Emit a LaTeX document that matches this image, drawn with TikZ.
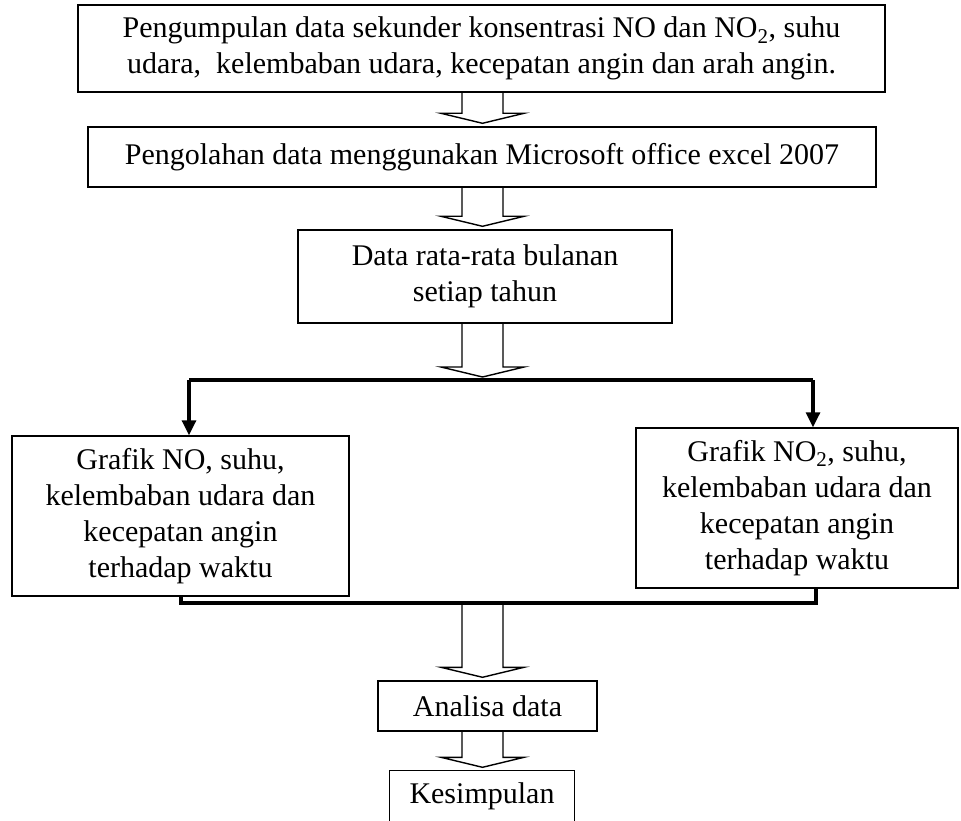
\documentclass[tikz,border=0pt]{standalone}
\usepackage{fontspec}
\setmainfont{Liberation Serif}
\usetikzlibrary{arrows.meta,calc}
\newcommand\blockarr[2]{%
  \draw[barrow] ($(ax|-#1)+(-20.5,0)$) -- ($(ax|-#2)+(-20.5,-13)$) -- ($(ax|-#2)+(-41.5,-13)$) -- ($(ax|-#2)+(0,-3)$) -- ($(ax|-#2)+(41.5,-13)$) -- ($(ax|-#2)+(20.5,-13)$) -- ($(ax|-#1)+(20.5,0)$);}
\begin{document}
\begin{tikzpicture}[x=1pt,y=-1pt,
  box/.style={draw, line width=1.4pt, align=center, inner sep=0pt, font=\fontsize{30}{36}\selectfont},
  barrow/.style={line width=1.4pt, line join=miter},
  bold/.style={line width=3.2pt},
  boldarr/.style={line width=3.2pt, -{Triangle[width=14pt,length=15pt]}}]
\useasboundingbox (0,0) rectangle (961,821);
\clip (0,0) rectangle (961,821);
\coordinate (ax) at (482.5,0);
\node[box, minimum width=807pt, minimum height=87pt] (b1) at (481.5,48.5)
  {Pengumpulan data sekunder konsentrasi NO dan NO\textsubscript{2}, suhu\\udara,\ \ kelembaban udara, kecepatan angin dan arah angin.};
\node[box, minimum width=788pt, minimum height=60pt] (b2) at (482,157)
  {Pengolahan data menggunakan Microsoft office excel 2007};
\node[box, minimum width=374pt, minimum height=93pt] (b3) at (485,276.5)
  {Data rata-rata bulanan\\setiap tahun};
\node[box, minimum width=337pt, minimum height=160pt] (bl) at (180.5,516)
  {Grafik NO, suhu,\\kelembaban udara dan\\kecepatan angin\\terhadap waktu};
\node[box, minimum width=322pt, minimum height=160pt] (br) at (797,508)
  {Grafik NO\textsubscript{2}, suhu,\\kelembaban udara dan\\kecepatan angin\\terhadap waktu};
\node[box, minimum width=219pt, minimum height=50pt] (b4) at (487.5,706)
  {Analisa data};
\node[box, draw=none, minimum width=184pt, minimum height=50pt] (b5) at (482,796)
  {Kesimpulan};
\draw[line width=1.4pt] ([yshift=-60pt]b5.south west) -- (b5.north west) -- (b5.north east) -- ([yshift=-60pt]b5.south east);
% branching
\coordinate (hl) at (189,380);
\coordinate (hr) at (813,380);
\coordinate (jl) at (181,603);
\coordinate (jr) at (816,603);
\coordinate (jm) at (482.5,603);
\draw[bold] (hl) -- (hr);
\draw[boldarr] (hl) -- (hl |- bl.north);
\draw[boldarr] (hr) -- (hr |- br.north);
\draw[bold, line join=miter] (jl |- bl.south) -- (jl) -- (jr) -- (jr |- br.south);
% block arrows
\blockarr{b1.south}{b2.north}
\blockarr{b2.south}{b3.north}
\blockarr{b3.south}{hl}
\blockarr{jm}{b4.north}
\blockarr{b4.south}{b5.north}
\end{tikzpicture}
\end{document}
